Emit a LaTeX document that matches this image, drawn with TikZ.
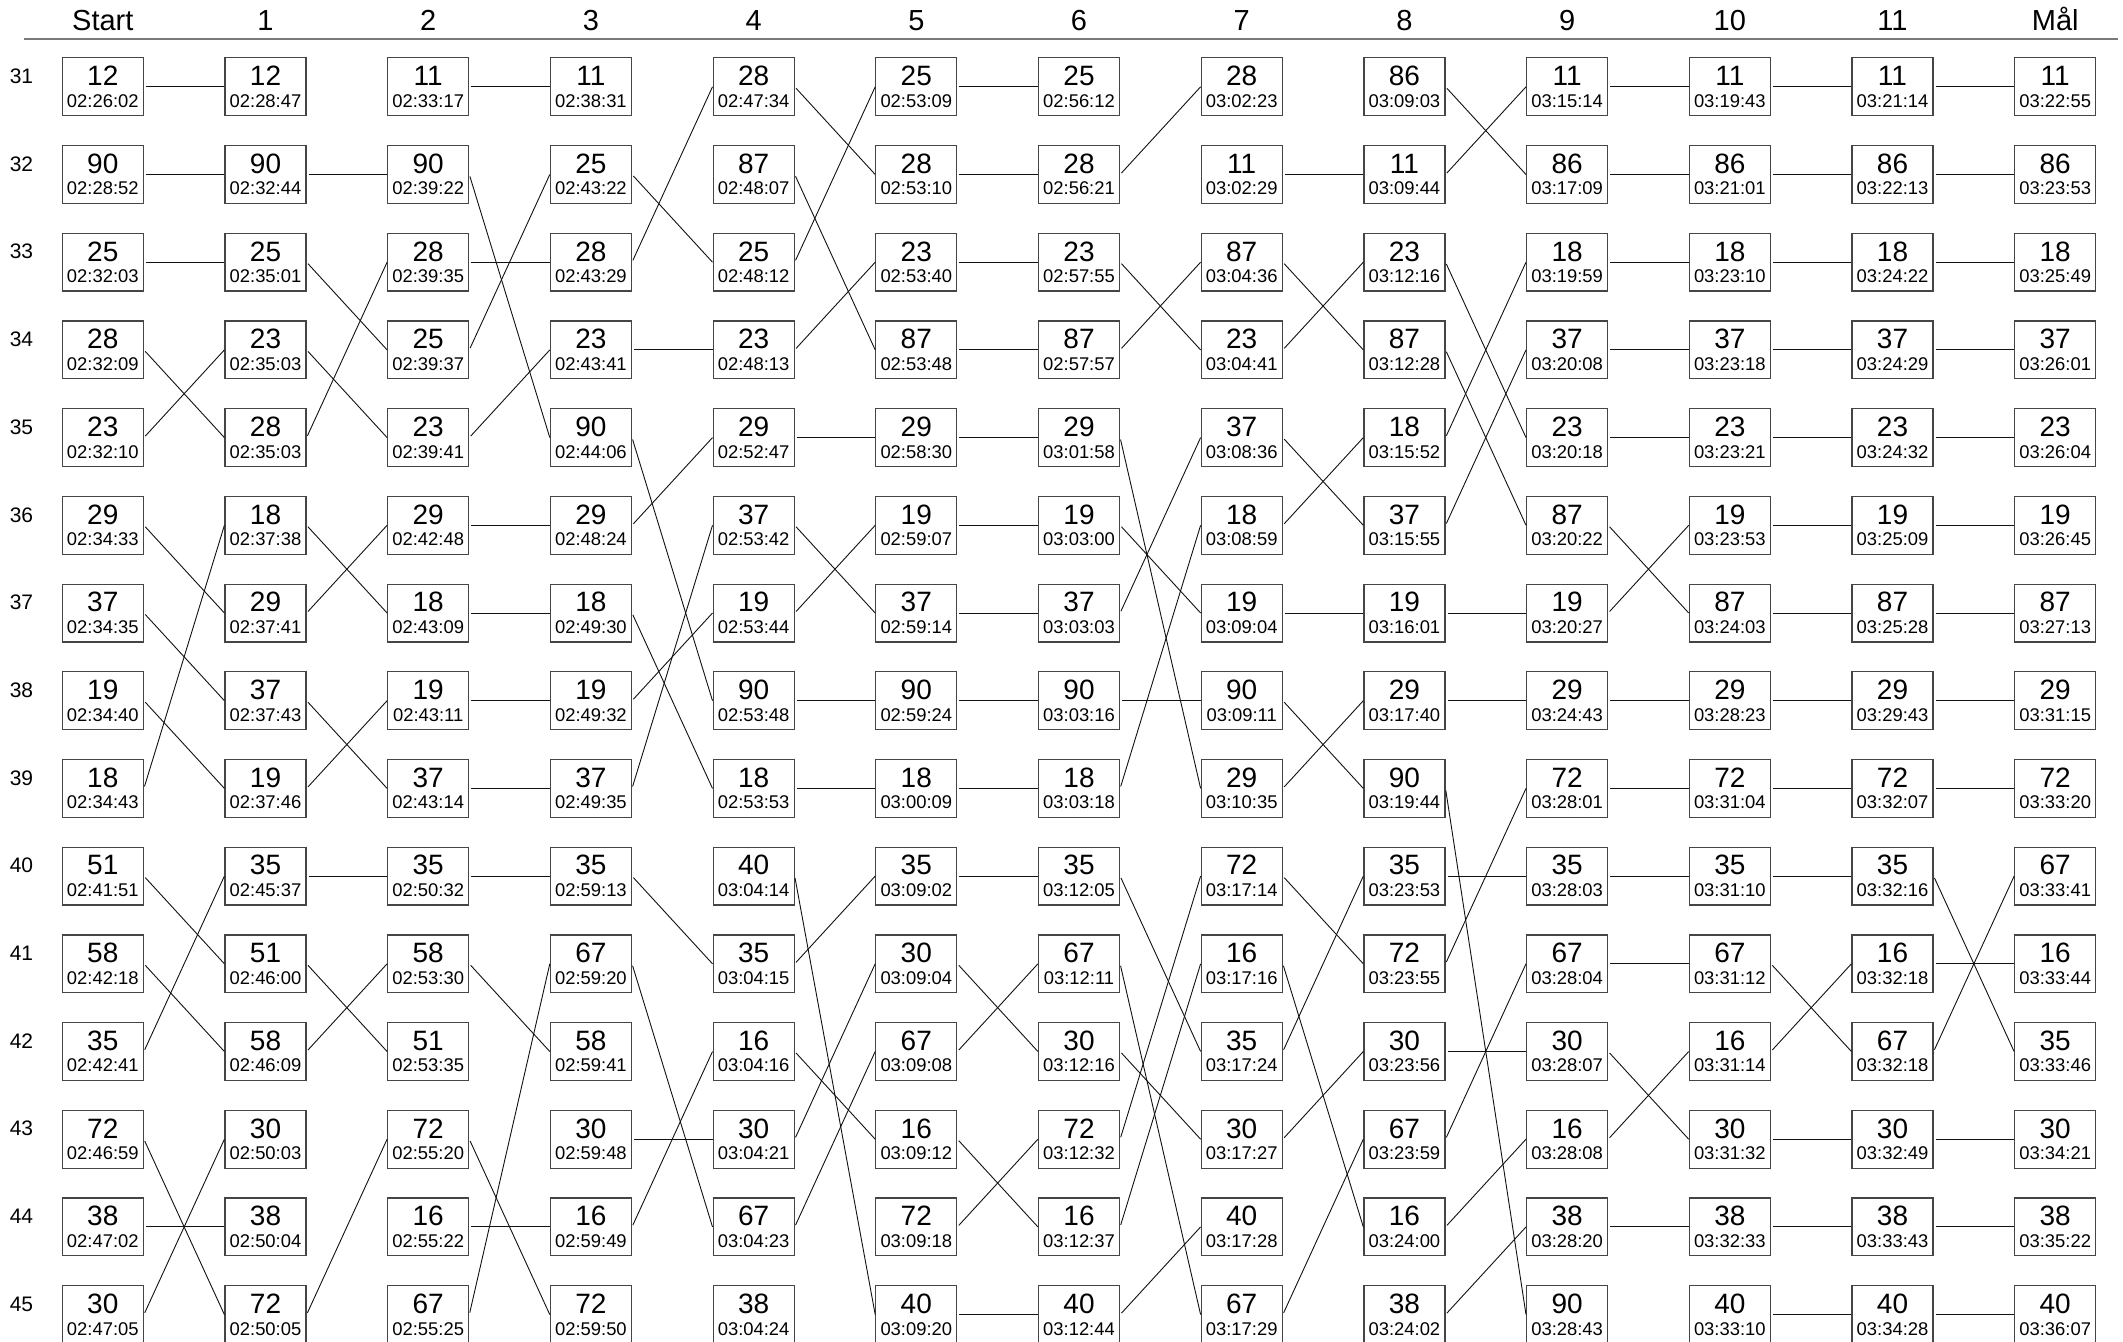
\documentclass[tikz,border=0pt]{standalone}
\usepackage{fontspec}
\setmainfont{Liberation Sans}
\definecolor{raceBox}{HTML}{454545}
\definecolor{raceLink}{HTML}{111111}
\definecolor{raceRule}{HTML}{7A7A7A}
\newcommand{\bibfont}{\fontsize{14}{10.8}\selectfont}
\newcommand{\timefont}{\fontsize{9.2}{10.8}\selectfont}
\tikzset{
    cell/.style={
        rectangle,
        draw=raceBox,
        line width=0.6pt,
        minimum width=40.5pt,
        minimum height=28.9pt,
        inner sep=0pt,
        align=center,
        font=\bibfont
    },
    colhead/.style={anchor=base, font=\fontsize{14.5}{16}\selectfont},
    rowhead/.style={anchor=base, font=\fontsize{10.5}{12}\selectfont},
    link/.style={draw=raceLink, line width=0.45pt, shorten <=1pt}
}

\begin{document}
\begin{tikzpicture}[x=0.5pt, y=-0.5pt]
\useasboundingbox (0,0) rectangle (2123,1342);

% ===== HEADER: checkpoints =====
\foreach \name [count=\col from 0] in {Start,1,2,3,4,5,6,7,8,9,10,11,Mål}
  \node[colhead] (h\col) at ({102.8+\col*162.7}, 30.7) {\name};
\draw[raceRule, line width=0.7pt] (24,39) -- (2118,39);

% ===== ROW NUMBERS =====
\foreach \pos [count=\row from 0] in {31,...,45}
  \node[rowhead] (r\pos) at (21.5, {83.5+\row*87.7}) {\pos};

% ===== CELLS: bib / time per checkpoint =====
\foreach \col/\data in {
  0/{12/02:26:02, 90/02:28:52, 25/02:32:03, 28/02:32:09, 23/02:32:10, 29/02:34:33, 37/02:34:35, 19/02:34:40, 18/02:34:43, 51/02:41:51, 58/02:42:18, 35/02:42:41, 72/02:46:59, 38/02:47:02, 30/02:47:05},
  1/{12/02:28:47, 90/02:32:44, 25/02:35:01, 23/02:35:03, 28/02:35:03, 18/02:37:38, 29/02:37:41, 37/02:37:43, 19/02:37:46, 35/02:45:37, 51/02:46:00, 58/02:46:09, 30/02:50:03, 38/02:50:04, 72/02:50:05},
  2/{11/02:33:17, 90/02:39:22, 28/02:39:35, 25/02:39:37, 23/02:39:41, 29/02:42:48, 18/02:43:09, 19/02:43:11, 37/02:43:14, 35/02:50:32, 58/02:53:30, 51/02:53:35, 72/02:55:20, 16/02:55:22, 67/02:55:25},
  3/{11/02:38:31, 25/02:43:22, 28/02:43:29, 23/02:43:41, 90/02:44:06, 29/02:48:24, 18/02:49:30, 19/02:49:32, 37/02:49:35, 35/02:59:13, 67/02:59:20, 58/02:59:41, 30/02:59:48, 16/02:59:49, 72/02:59:50},
  4/{28/02:47:34, 87/02:48:07, 25/02:48:12, 23/02:48:13, 29/02:52:47, 37/02:53:42, 19/02:53:44, 90/02:53:48, 18/02:53:53, 40/03:04:14, 35/03:04:15, 16/03:04:16, 30/03:04:21, 67/03:04:23, 38/03:04:24},
  5/{25/02:53:09, 28/02:53:10, 23/02:53:40, 87/02:53:48, 29/02:58:30, 19/02:59:07, 37/02:59:14, 90/02:59:24, 18/03:00:09, 35/03:09:02, 30/03:09:04, 67/03:09:08, 16/03:09:12, 72/03:09:18, 40/03:09:20},
  6/{25/02:56:12, 28/02:56:21, 23/02:57:55, 87/02:57:57, 29/03:01:58, 19/03:03:00, 37/03:03:03, 90/03:03:16, 18/03:03:18, 35/03:12:05, 67/03:12:11, 30/03:12:16, 72/03:12:32, 16/03:12:37, 40/03:12:44},
  7/{28/03:02:23, 11/03:02:29, 87/03:04:36, 23/03:04:41, 37/03:08:36, 18/03:08:59, 19/03:09:04, 90/03:09:11, 29/03:10:35, 72/03:17:14, 16/03:17:16, 35/03:17:24, 30/03:17:27, 40/03:17:28, 67/03:17:29},
  8/{86/03:09:03, 11/03:09:44, 23/03:12:16, 87/03:12:28, 18/03:15:52, 37/03:15:55, 19/03:16:01, 29/03:17:40, 90/03:19:44, 35/03:23:53, 72/03:23:55, 30/03:23:56, 67/03:23:59, 16/03:24:00, 38/03:24:02},
  9/{11/03:15:14, 86/03:17:09, 18/03:19:59, 37/03:20:08, 23/03:20:18, 87/03:20:22, 19/03:20:27, 29/03:24:43, 72/03:28:01, 35/03:28:03, 67/03:28:04, 30/03:28:07, 16/03:28:08, 38/03:28:20, 90/03:28:43},
  10/{11/03:19:43, 86/03:21:01, 18/03:23:10, 37/03:23:18, 23/03:23:21, 19/03:23:53, 87/03:24:03, 29/03:28:23, 72/03:31:04, 35/03:31:10, 67/03:31:12, 16/03:31:14, 30/03:31:32, 38/03:32:33, 40/03:33:10},
  11/{11/03:21:14, 86/03:22:13, 18/03:24:22, 37/03:24:29, 23/03:24:32, 19/03:25:09, 87/03:25:28, 29/03:29:43, 72/03:32:07, 35/03:32:16, 16/03:32:18, 67/03:32:18, 30/03:32:49, 38/03:33:43, 40/03:34:28},
  12/{11/03:22:55, 86/03:23:53, 18/03:25:49, 37/03:26:01, 23/03:26:04, 19/03:26:45, 87/03:27:13, 29/03:31:15, 72/03:33:20, 67/03:33:41, 16/03:33:44, 35/03:33:46, 30/03:34:21, 38/03:35:22, 40/03:36:07}%
}{
  \foreach \bib/\tm [count=\row] in \data {
    \node[cell] (n\col-\row) at ({102.8+\col*162.7}, {86.8+(\row-1)*87.7})
      {\bib\\\timefont\tm};
    \expandafter\xdef\csname bib\col-\row\endcsname{\bib}
  }
}

% ===== LINKS: same bib at neighbouring checkpoints =====
\foreach \col in {0,...,11}{
  \pgfmathtruncatemacro\nxt{\col+1}
  \foreach \row in {1,...,15}{
    \foreach \oth in {1,...,15}{
      \ifnum\csname bib\col-\row\endcsname=\csname bib\nxt-\oth\endcsname\relax
        \draw[link] (n\col-\row.east) -- (n\nxt-\oth.west);
      \fi
    }
  }
}

\end{tikzpicture}
\end{document}
